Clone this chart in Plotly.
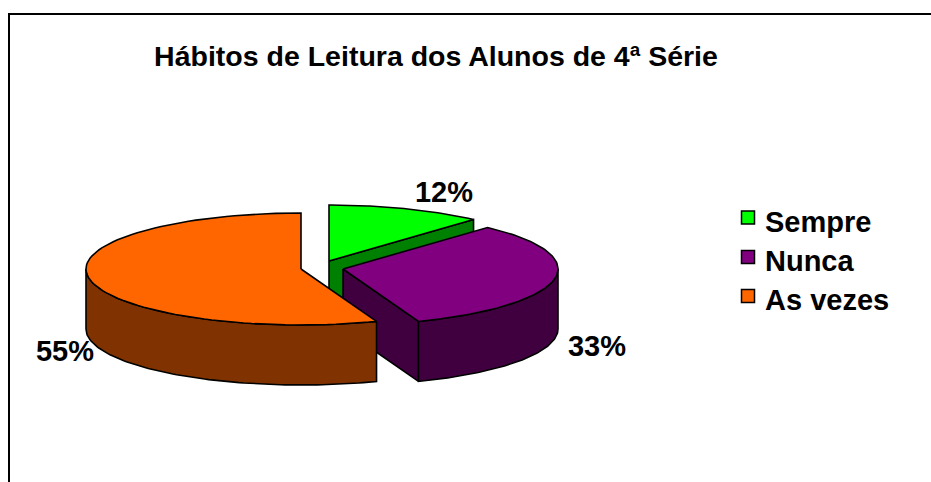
import numpy as np
import plotly.graph_objects as go

categories = ["Sempre", "Nunca", "As vezes"]
values = [12, 33, 55]
top_colors = ["#00FF00", "#800080", "#FF6600"]
side_colors = ["#008000", "#400040", "#803300"]
title = "Hábitos de Leitura dos Alunos de 4ª Série"

W, H = 931, 482
RX, RY, DEPTH = 215, 56, 60
centers = [(329, 261), (343, 269), (301, 269)]
label_pos = [(444, 195), (597, 349), (65, 354)]
legend_y = [224.5, 263.5, 302.5]
marker_y = [217.5, 257, 296]
LINE = dict(color="black", width=1.6)
FONT = "Liberation Sans, Arial, sans-serif"


def arc(c, a0, a1, dz=0, n=90):
    t = np.radians(np.linspace(a0, a1, n))
    return c[0] + RX * np.sin(t), c[1] - RY * np.cos(t) + dz


def poly(x, y, color):
    return go.Scatter(x=np.append(x, x[0]), y=np.append(y, y[0]), mode="lines", fill="toself",
                      fillcolor=color, line=LINE, hoverinfo="skip", showlegend=False)


fig = go.Figure()
total = sum(values)
angles = np.concatenate([[0], np.cumsum(values) / total * 360])
# slight skew of the projected view
angles = angles - 2.6 * np.sin(np.radians(angles / 2))

for i, c in enumerate(centers):
    a0, a1 = angles[i], angles[i + 1]
    # straight cut face on the side turned to the viewer
    if a1 < 180:
        ex, ey = arc(c, a1, a1, n=1)
        fx = np.array([c[0], ex[0], ex[0], c[0]])
        fy = np.array([c[1], ey[0], ey[0] + DEPTH, c[1] + DEPTH])
        fig.add_trace(poly(fx, fy, side_colors[i]))
    # outer rim, front half only
    r0, r1 = max(a0, 90), min(a1, 270)
    if r1 > r0:
        ux, uy = arc(c, r0, r1)
        lx, ly = arc(c, r1, r0, DEPTH)
        fig.add_trace(poly(np.concatenate([ux, lx]), np.concatenate([uy, ly]), side_colors[i]))
    # top of the slice
    tx, ty = arc(c, a0, a1)
    fig.add_trace(poly(np.concatenate([[c[0]], tx]), np.concatenate([[c[1]], ty]), top_colors[i]))

# value labels
fig.add_trace(go.Scatter(
    x=[p[0] for p in label_pos], y=[p[1] for p in label_pos], mode="text",
    text=[f"<b>{v / total * 100:.0f}%</b>" for v in values],
    textfont=dict(family=FONT, size=29, color="black"),
    textposition="middle center", hoverinfo="skip", showlegend=False))

# legend
fig.add_trace(go.Scatter(
    x=[748] * 3, y=marker_y, mode="markers",
    marker=dict(symbol="square", size=13, color=top_colors, line=dict(color="black", width=1.5)),
    hoverinfo="skip", showlegend=False))
fig.add_trace(go.Scatter(
    x=[765] * 3, y=legend_y, mode="text", text=[f"<b>{c}</b>" for c in categories],
    textfont=dict(family=FONT, size=29, color="black"),
    textposition="middle right", hoverinfo="skip", showlegend=False))

# title
fig.add_trace(go.Scatter(
    x=[436], y=[59], mode="text", text=[f"<b>{title}</b>"],
    textfont=dict(family=FONT, size=28.5, color="black"),
    textposition="middle center", hoverinfo="skip", showlegend=False))

fig.update_layout(
    width=W, height=H, margin=dict(l=0, r=0, t=0, b=0),
    paper_bgcolor="white", plot_bgcolor="white",
    xaxis=dict(range=[0, W], visible=False, fixedrange=True),
    yaxis=dict(range=[H, 0], visible=False, fixedrange=True),
    shapes=[dict(type="path", xref="x", yref="y",
                 path="M 9 490 L 9 14 L 940 14",
                 line=dict(color="black", width=2))],
)
fig.write_html("out.html", config={"displayModeBar": False},
               post_script="document.body.style.margin='0';document.body.style.overflow='hidden';")
